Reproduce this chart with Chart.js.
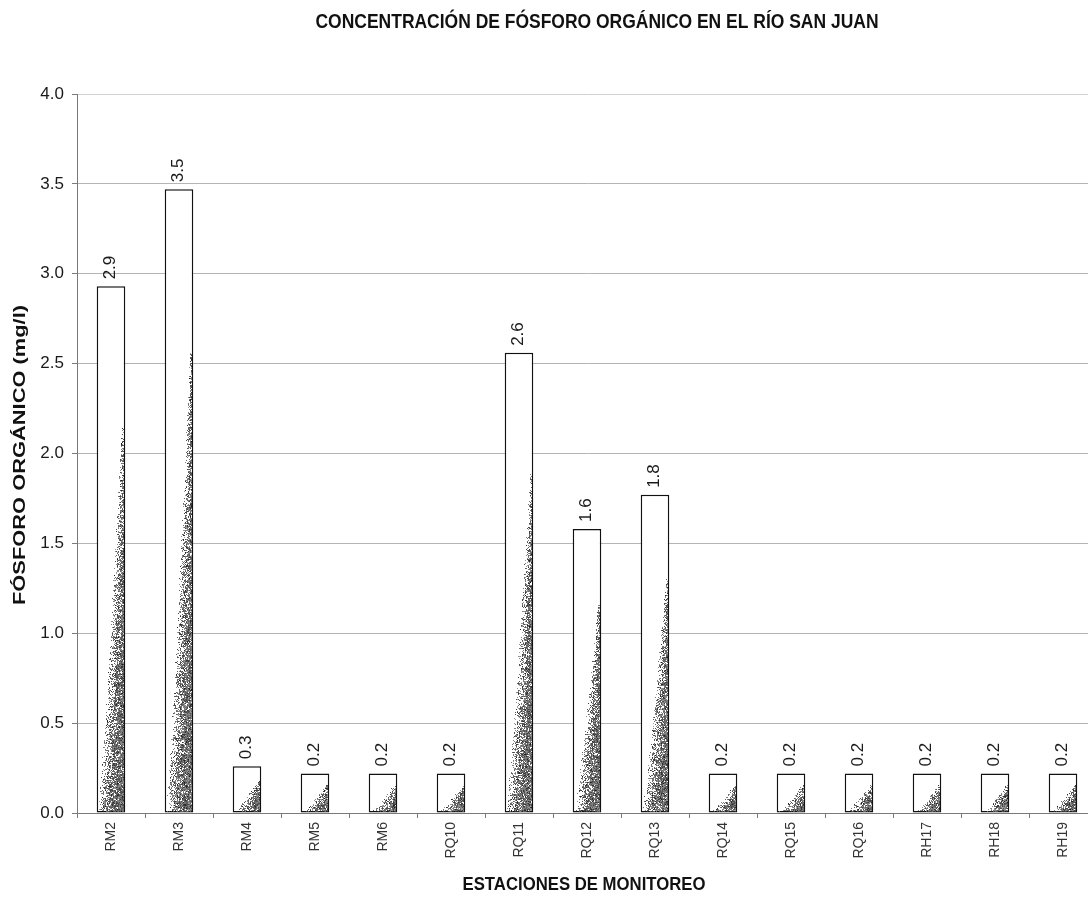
<!DOCTYPE html>
<html lang="es">
<head>
<meta charset="utf-8">
<title>Fósforo orgánico - Río San Juan</title>
<script src="https://cdn.jsdelivr.net/npm/chart.js@4.4.1/dist/chart.umd.min.js"></script>
<style>
  html, body { margin: 0; padding: 0; background: #ffffff; overflow: hidden; }
  canvas { display: block; }
</style>
</head>
<body>
<canvas id="chart" width="1100" height="898"></canvas>
<script>
// Monitoring stations along the river
const stations = ['RM2', 'RM3', 'RM4', 'RM5', 'RM6', 'RQ10', 'RQ11', 'RQ12', 'RQ13',
                  'RQ14', 'RQ15', 'RQ16', 'RH17', 'RH18', 'RH19'];
// Organic phosphorus concentration (mg/l) per station
const organicPhosphorus = [2.93, 3.47, 0.26, 0.22, 0.22, 0.22, 2.56, 1.58, 1.77,
                           0.22, 0.22, 0.22, 0.22, 0.22, 0.22];
// Value axis range and step
const yMin = 0;
const yMax = 4;
const yStep = 0.5;

const chartTitle = 'CONCENTRACIÓN DE FÓSFORO ORGÁNICO EN EL RÍO SAN JUAN';
const xTitle = 'ESTACIONES DE MONITOREO';
const yTitle = 'FÓSFORO ORGÁNICO (mg/l)';

const FONT = '"Liberation Sans", Arial, Helvetica, sans-serif';

// Small deterministic hash used for the stippled bar texture
function hash(x, y, k) {
  const s = Math.sin(x * 12.9898 + y * 78.233 + k * 37.719) * 43758.5453;
  return s - Math.floor(s);
}

// Stippled shading: grainy grey that thickens toward the lower right of each bar
const stipplePlugin = {
  id: 'stipple',
  afterDatasetsDraw(chart) {
    const ctx = chart.ctx;
    const meta = chart.getDatasetMeta(0);
    ctx.save();
    meta.data.forEach((bar) => {
      const p = bar.getProps(['x', 'y', 'base', 'width'], true);
      const left = Math.round(p.x - p.width / 2) + 2;
      const right = Math.round(p.x + p.width / 2) - 1;
      const top = Math.round(p.y) + 2;
      const bottom = Math.round(p.base) - 1;
      const h = bottom - top;
      const w = right - left;
      if (h <= 0 || w <= 0) return;
      const reach = 0.74;
      for (let py = top; py < bottom; py++) {
        const t = (bottom - py) / h;
        if (t > reach) continue;
        const b = 0.02 + 0.98 * Math.pow(t / reach, 0.85);
        const v = 1 - t / reach;
        for (let px = left; px < right; px++) {
          const u = (px - left) / w;
          const q = (u - b + 0.1) / (1 - b + 0.1);
          if (q <= 0) continue;
          let dens = Math.pow(q, 0.75) * (0.55 + 0.45 * v) * 1.35;
          dens *= 0.7 + 0.6 * hash(Math.floor(px / 2), Math.floor(py / 2), 4);
          dens = Math.min(0.94, dens);
          if (hash(px, py, 1) < dens) {
            const g = Math.round(20 + 115 * hash(px, py, 2));
            ctx.fillStyle = 'rgba(' + g + ',' + g + ',' + g + ',' + (0.7 + 0.3 * hash(px, py, 3)).toFixed(2) + ')';
            ctx.fillRect(px, py, 1, 1);
          }
        }
      }
    });
    ctx.restore();
  }
};

// Rotated value labels above each bar
const valueLabelPlugin = {
  id: 'valueLabels',
  afterDatasetsDraw(chart) {
    const ctx = chart.ctx;
    const meta = chart.getDatasetMeta(0);
    const values = chart.data.datasets[0].data;
    ctx.save();
    ctx.fillStyle = '#1a1a1a';
    ctx.font = '17px ' + FONT;
    ctx.textAlign = 'left';
    ctx.textBaseline = 'middle';
    meta.data.forEach((bar, i) => {
      ctx.save();
      ctx.translate(bar.x - 1, bar.y - 7);
      ctx.rotate(-Math.PI / 2);
      ctx.fillText(values[i].toFixed(1), 0, 0);
      ctx.restore();
    });
    ctx.restore();
  }
};

// Chart and axis titles, condensed to the drawn widths
function drawFitted(ctx, text, cx, cy, length, font, vertical) {
  ctx.save();
  ctx.font = font;
  const natural = ctx.measureText(text).width;
  ctx.translate(cx, cy);
  if (vertical) ctx.rotate(-Math.PI / 2);
  ctx.scale(length / natural, 1);
  ctx.textAlign = 'center';
  ctx.textBaseline = 'middle';
  ctx.fillStyle = '#111111';
  ctx.fillText(text, 0, 0);
  ctx.restore();
}

const titlesPlugin = {
  id: 'titles',
  afterDraw(chart) {
    const ctx = chart.ctx;
    drawFitted(ctx, chartTitle, 597, 22, 563, 'bold 20px ' + FONT, false);
    drawFitted(ctx, xTitle, 584, 885, 243, 'bold 18px ' + FONT, false);
    drawFitted(ctx, yTitle, 21, 455, 300, 'bold 16px ' + FONT, true);
  }
};

new Chart(document.getElementById('chart'), {
  type: 'bar',
  data: {
    labels: stations,
    datasets: [{
      data: organicPhosphorus,
      backgroundColor: '#ffffff',
      borderColor: '#111111',
      borderWidth: 1.5,
      borderSkipped: false,
      categoryPercentage: 1,
      barPercentage: 0.42
    }]
  },
  options: {
    responsive: false,
    animation: false,
    devicePixelRatio: 1,
    layout: { padding: { top: 94, right: 3, left: 0, bottom: 0 } },
    plugins: {
      legend: { display: false },
      title: { display: false },
      tooltip: { enabled: false }
    },
    scales: {
      x: {
        offset: true,
        grid: {
          display: true,
          drawOnChartArea: false,
          drawTicks: true,
          tickLength: 5,
          color: '#7a7a7a',
          offset: true
        },
        border: { display: true, color: '#7a7a7a', width: 1 },
        ticks: {
          minRotation: 90,
          maxRotation: 90,
          padding: 4,
          color: '#333333',
          font: { family: FONT, size: 14 }
        },
        afterFit(scale) { scale.height = 85; }
      },
      y: {
        min: yMin,
        max: yMax,
        grid: {
          color: (c) => (c.tick && c.tick.value === yMax ? '#d2d2d2' : '#b4b4b4'),
          lineWidth: 1,
          drawTicks: true,
          tickLength: 5,
          tickColor: '#7a7a7a'
        },
        border: { display: true, color: '#7a7a7a', width: 1 },
        ticks: {
          stepSize: yStep,
          padding: 8,
          color: '#1a1a1a',
          font: { family: FONT, size: 17 },
          callback: (v) => Number(v).toFixed(1)
        },
        afterFit(scale) { scale.width = 77; }
      }
    }
  },
  plugins: [stipplePlugin, valueLabelPlugin, titlesPlugin]
});
</script>
</body>
</html>
